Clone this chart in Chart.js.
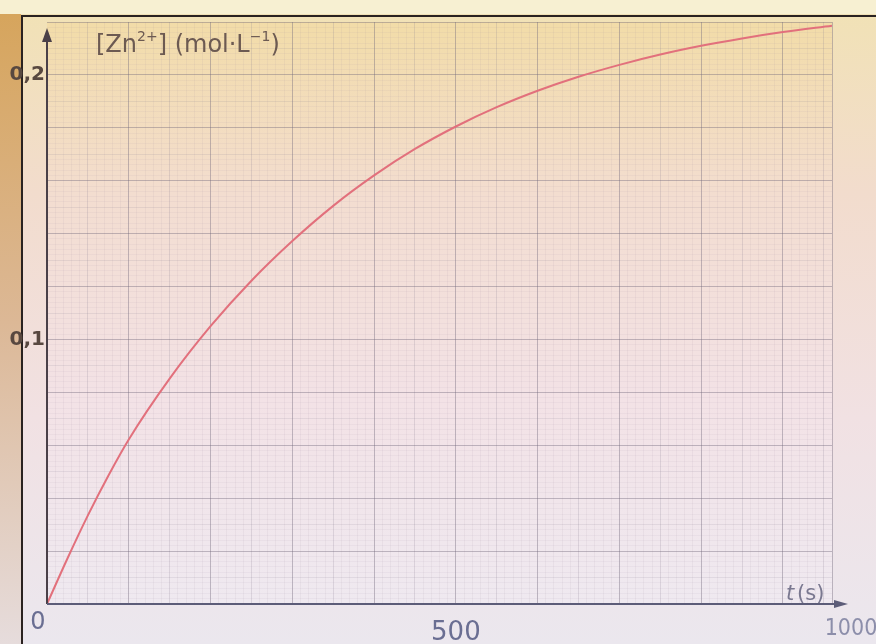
<!DOCTYPE html>
<html lang="fr">
<head>
<meta charset="UTF-8">
<title>[Zn2+] en fonction du temps</title>
<script src="https://cdn.jsdelivr.net/npm/chart.js"></script>
<style>
  html, body { margin: 0; padding: 0; background: #efe6d6; }
  #wrap { width: 876px; height: 644px; }
</style>
</head>
<body>
<div id="wrap"><canvas id="zincChart" width="876" height="644"></canvas></div>
<script>
// valeurs : t (s) et [Zn2+] (mol/L)
const times = [0, 25, 50, 75, 100, 150, 200, 250, 300, 350, 400, 450, 500, 550, 600, 650, 700, 750, 800, 850, 900, 960];
const zinc = [0, 0.0172, 0.0335, 0.0485, 0.0622, 0.0852, 0.1050, 0.1222, 0.1372, 0.1505, 0.1620, 0.1720, 0.1805, 0.1878, 0.1940, 0.1993, 0.2038, 0.2077, 0.2110, 0.2138, 0.2162, 0.2186];

const xMax = 960;
const yMax = 0.22;
const xTickLabels = { 500: '500' };
const yTickLabels = { 10: '0,1', 20: '0,2' };   // key = value * 100

const points = times.map((t, i) => ({ x: t, y: zinc[i] }));

// fond du papier photographié
const paperBackground = {
    id: 'paperBackground',
    beforeDraw(chart) {
        const ctx = chart.ctx;
        const w = chart.width, h = chart.height;
        const a = chart.chartArea;
        ctx.save();
        let g = ctx.createLinearGradient(0, 0, 0, h);
        g.addColorStop(0, '#f1e2b4');
        g.addColorStop(0.3, '#f2dccd');
        g.addColorStop(0.65, '#f1e1e3');
        g.addColorStop(1, '#ebe7ee');
        ctx.fillStyle = g;
        ctx.fillRect(0, 0, w, h);

        // bande de gauche hors de la page
        g = ctx.createLinearGradient(0, 0, 0, h);
        g.addColorStop(0, '#d6a45a');
        g.addColorStop(0.5, '#dcb896');
        g.addColorStop(1, '#e6dcdc');
        ctx.fillStyle = g;
        ctx.fillRect(0, 0, 21, h);
        ctx.fillStyle = '#f7f0d2';
        ctx.fillRect(0, 0, w, 14);

        // zone quadrillée
        g = ctx.createLinearGradient(0, a.top, 0, a.bottom);
        g.addColorStop(0, '#f2dca8');
        g.addColorStop(0.3, '#f3ddd0');
        g.addColorStop(0.65, '#f3e2e6');
        g.addColorStop(1, '#efe9f0');
        ctx.fillStyle = g;
        ctx.fillRect(a.left, a.top, a.right - a.left, a.bottom - a.top);

        // bord de la photo
        ctx.strokeStyle = '#2a2220';
        ctx.lineWidth = 2;
        ctx.beginPath();
        ctx.moveTo(22, h);
        ctx.lineTo(22, 16);
        ctx.lineTo(w, 16);
        ctx.stroke();
        ctx.restore();
    }
};

// axes fléchés et textes
const axesAndText = {
    id: 'axesAndText',
    afterDraw(chart) {
        const ctx = chart.ctx;
        const x0 = chart.scales.x.getPixelForValue(0);
        const y0 = chart.scales.y.getPixelForValue(0);
        ctx.save();

        // axe des ordonnées
        ctx.strokeStyle = '#4a4048';
        ctx.fillStyle = '#4a4048';
        ctx.lineWidth = 2;
        ctx.beginPath();
        ctx.moveTo(x0, y0);
        ctx.lineTo(x0, 34);
        ctx.stroke();
        ctx.beginPath();
        ctx.moveTo(x0, 28);
        ctx.lineTo(x0 - 5, 42);
        ctx.lineTo(x0 + 5, 42);
        ctx.closePath();
        ctx.fill();

        // axe des abscisses
        ctx.strokeStyle = '#5c5c78';
        ctx.fillStyle = '#5c5c78';
        ctx.beginPath();
        ctx.moveTo(x0, y0);
        ctx.lineTo(840, y0);
        ctx.stroke();
        ctx.beginPath();
        ctx.moveTo(848, y0);
        ctx.lineTo(834, y0 - 4);
        ctx.lineTo(834, y0 + 4);
        ctx.closePath();
        ctx.fill();

        // titre de l'axe vertical : [Zn2+] (mol·L-1)
        ctx.fillStyle = '#6c5a52';
        ctx.textBaseline = 'alphabetic';
        ctx.textAlign = 'left';
        let x = 96;
        const base = 52;
        const put = (txt, size, dy) => {
            ctx.font = size + 'px "DejaVu Sans"';
            ctx.fillText(txt, x, base + dy);
            x += ctx.measureText(txt).width;
        };
        put('[Zn', 24, 0);
        put('2+', 14, -11);
        put('] (mol·L', 24, 0);
        put('−1', 14, -11);
        put(')', 24, 0);

        // t (s)
        ctx.fillStyle = '#7a7890';
        ctx.font = 'italic 21px "DejaVu Sans"';
        ctx.fillText('t', 786, 600);
        ctx.font = '21px "DejaVu Sans"';
        ctx.fillText('(s)', 797, 600);

        // origine et 1000
        ctx.textAlign = 'center';
        ctx.fillStyle = '#6a6e92';
        ctx.font = '24px "DejaVu Sans"';
        ctx.fillText('0', 38, 629);
        ctx.fillStyle = '#8c8eaa';
        ctx.font = '23px "Liberation Sans Narrow", "DejaVu Sans Condensed", sans-serif';
        ctx.fillText('1000', 851, 635);
        ctx.restore();
    }
};

function xGridColor(c) {
    const v = Math.round(c.tick.value);
    if (v === 0) return 'rgba(0,0,0,0)';
    if (v % 100 === 0 || v === xMax) return 'rgba(115,105,125,0.42)';
    if (v % 50 === 0) return 'rgba(130,118,142,0.2)';
    return 'rgba(150,135,160,0.09)';
}

function yGridColor(c) {
    const k = Math.round(c.tick.value / 0.002);
    if (k === 0) return 'rgba(0,0,0,0)';
    if (k % 10 === 0) return 'rgba(115,105,125,0.42)';
    if (k % 5 === 0) return 'rgba(130,118,142,0.14)';
    return 'rgba(150,135,160,0.08)';
}

new Chart(document.getElementById('zincChart'), {
    type: 'line',
    data: {
        datasets: [{
            label: '[Zn2+]',
            data: points,
            borderColor: '#e2707c',
            borderWidth: 2,
            pointRadius: 0,
            cubicInterpolationMode: 'monotone',
            fill: false
        }]
    },
    options: {
        responsive: false,
        animation: false,
        layout: { padding: { top: 22, right: 44, left: 0, bottom: 0 } },
        plugins: {
            legend: { display: false },
            tooltip: { enabled: false }
        },
        scales: {
            x: {
                type: 'linear',
                min: 0,
                max: xMax,
                border: { display: false },
                grid: { color: xGridColor, lineWidth: 1, drawTicks: false },
                ticks: {
                    stepSize: 10,
                    autoSkip: false,
                    maxRotation: 0,
                    minRotation: 0,
                    padding: 14,
                    color: '#6a6e92',
                    font: { family: 'DejaVu Sans', size: 26 },
                    callback: v => xTickLabels[Math.round(v)] || ''
                },
                afterFit: s => { s.height = 40; }
            },
            y: {
                type: 'linear',
                min: 0,
                max: yMax,
                border: { display: false },
                grid: { color: yGridColor, lineWidth: 1, drawTicks: false },
                ticks: {
                    stepSize: 0.002,
                    autoSkip: false,
                    padding: 2,
                    color: '#584840',
                    font: { family: 'DejaVu Sans', size: 20, weight: 'bold' },
                    callback: v => {
                        const k = Math.round(v * 1000);
                        if (k % 10 !== 0) return '';
                        return yTickLabels[k / 10] || '';
                    }
                },
                afterFit: s => { s.width = 47; }
            }
        }
    },
    plugins: [paperBackground, axesAndText]
});
</script>
</body>
</html>
